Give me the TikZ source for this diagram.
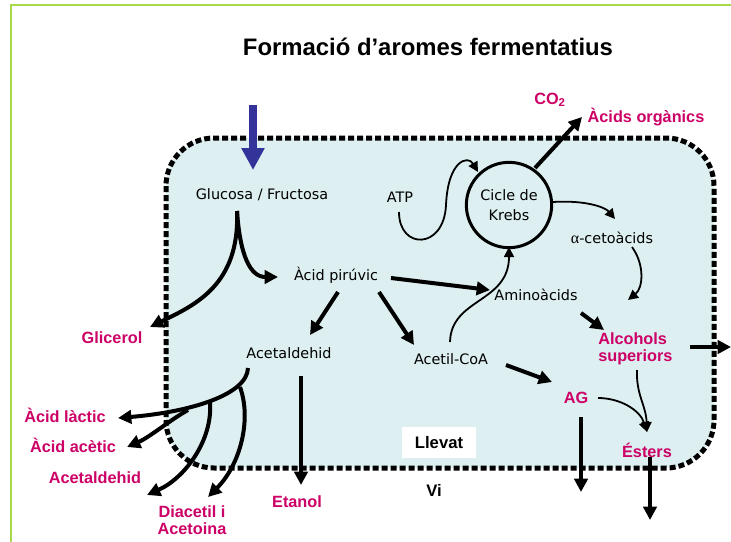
\documentclass[tikz,border=0pt]{standalone}
\usepackage{fontspec}
\setmainfont{DejaVu Sans}
\newfontfamily\arialfont{Liberation Sans}
\newfontfamily\greekfont{Liberation Serif}
\usetikzlibrary{arrows.meta}
\definecolor{framegreen}{RGB}{166,216,75}
\definecolor{cellfill}{RGB}{221,239,240}
\definecolor{prodpink}{RGB}{204,0,102}
\definecolor{feedblue}{RGB}{51,51,153}
\begin{document}
\begin{tikzpicture}[x=0.75pt,y=-0.75pt,
  lab/.style={font=\fontsize{10.8}{15}\selectfont, inner sep=0pt, align=center},
  prod/.style={font=\arialfont\bfseries\fontsize{12.2}{12.75}\selectfont, text=prodpink, inner sep=0pt},
  fat/.style={line width=3pt, -{Triangle[length=10pt,width=10pt]}},
  slim/.style={line width=1.35pt, -{Triangle[length=7.5pt,width=7.5pt]}},
  membrane/.style={line width=3.75pt, dash pattern=on 4.5pt off 2.25pt, fill=cellfill, rounded corners=36pt}]
\useasboundingbox (0,0) rectangle (731,542);

% page frame
\draw[framegreen, line width=1.5pt] (10.5,542) -- (10.5,5.5) -- (731,5.5);

% title
\node[font=\arialfont\bfseries\fontsize{17.9}{20}\selectfont, inner sep=0pt] (title) at (428,47) {Formació d’aromes fermentatius};

% yeast cell
\draw[membrane] (166,138) rectangle (714,468);
\node[fill=white, minimum width=55.5pt, minimum height=23.25pt, inner sep=0pt,
      font=\arialfont\bfseries\fontsize{12.5}{14}\selectfont] (llevat) at (439,442.5) {Llevat};
\node[font=\arialfont\bfseries\fontsize{12.5}{14}\selectfont, inner sep=0pt] (vi) at (434,490) {Vi};

% sugar uptake
\coordinate (feedtop) at (253,105);
\coordinate (feedtip) at (253,170);
\draw[feedblue, line width=5.6pt, -{Triangle[length=16.5pt,width=16.5pt]}] (feedtop) -- (feedtip);

% metabolites inside the cell
\node[lab] (glu) at (262,195) {Glucosa / Fructosa};
\node[lab] (atp) at (400,197) {ATP};
\node[draw, circle, line width=2.25pt, minimum size=64pt, inner sep=0pt, lab] (krebs) at (509,205) {Cicle de\\Krebs};
\node[lab] (ceto) at (612,238) {{\greekfont\fontsize{12}{15}\selectfont α}-cetoàcids};
\node[lab] (pir) at (336,275) {Àcid pirúvic};
\node[lab] (amino) at (536,295) {Aminoàcids};
\node[lab] (acet) at (289,353) {Acetaldehid};
\node[lab] (acoa) at (451,359) {Acetil-CoA};
\node[prod, anchor=west, align=left] (alc) at (598,349) {Alcohols\\superiors};
\node[prod] (ag) at (576,398) {AG};
\node[prod] (est) at (647,450) {Ésters};

% products released
\node[prod] (co2) at (550,100) {CO\textsubscript{2}};
\node[prod] (orga) at (646,117) {Àcids orgànics};
\node[prod] (glic) at (112,338) {Glicerol};
\node[prod] (lac) at (65,415) {Àcid làctic};
\node[prod] (acetic) at (73,445) {Àcid acètic};
\node[prod] (acetm) at (95,478) {Acetaldehid};
\node[prod, align=center] (diac) at (192,520) {Diacetil i\\Acetoina};
\node[prod] (etanol) at (297,502) {Etanol};

% connector end points
\coordinate (glu-out) at (237,211);
\coordinate (pir-in) at (278,277);
\coordinate (glic-in) at (150,327);
\coordinate (pir-e) at (391,278);
\coordinate (amino-in) at (490,290);
\coordinate (pir-s) at (338,292);
\coordinate (acet-in) at (310,335);
\coordinate (pir-se) at (379,292);
\coordinate (acoa-in) at (414,345);
\coordinate (acoa-n) at (450,342);
\coordinate (krebs-s) at (509,247);
\coordinate (atp-s) at (399,212);
\coordinate (atp-turn) at (446,205);
\coordinate (krebs-nw) at (478,172);
\coordinate (krebs-e) at (553,202);
\coordinate (ceto-in) at (615,219);
\coordinate (krebs-ne) at (535,168);
\coordinate (co2-in) at (582,117);
\coordinate (ceto-s) at (632,247);
\coordinate (alc-n) at (628,300);
\coordinate (amino-se) at (581,313);
\coordinate (alc-nw) at (604,330);
\coordinate (acoa-e) at (506,365);
\coordinate (ag-in) at (552,382);
\coordinate (ag-e) at (598,398);
\coordinate (est-in) at (647,432);
\coordinate (alc-s) at (637,370);
\coordinate (ag-s) at (581,417);
\coordinate (ag-out) at (581,492);
\coordinate (est-s) at (650,457);
\coordinate (est-out) at (650,520);
\coordinate (alc-e) at (690,347);
\coordinate (alc-out) at (731,347);
\coordinate (acet-s) at (301,376);
\coordinate (etanol-in) at (301,485);
\coordinate (acet-sw) at (248,368);
\coordinate (lac-in) at (118,418);
\coordinate (fork-a) at (188,410);
\coordinate (acetic-in) at (127,447);
\coordinate (fork-b) at (210,402);
\coordinate (acetm-in) at (147,495);
\coordinate (fork-c) at (240,387);
\coordinate (diac-in) at (208,497);

% glycolysis
\draw[fat] (glu-out) .. controls (240,255) and (250,277) .. (pir-in);
\draw[fat] (glu-out) .. controls (240,285) and (195,305) .. (glic-in);
\draw[fat] (pir-e) -- (amino-in);
\draw[fat] (pir-s) -- (acet-in);
\draw[fat] (pir-se) -- (acoa-in);

% Krebs cycle
\draw[slim] (acoa-n) .. controls (451,298) and (509,303) .. (krebs-s);
\draw[slim] (atp-s) .. controls (399,250) and (444,250) .. (atp-turn)
               .. controls (448,160) and (468,155) .. (krebs-nw);
\draw[slim] (krebs-e) .. controls (585,200) and (605,207) .. (ceto-in);
\draw[fat] (krebs-ne) -- (co2-in);

% higher alcohols and esters
\draw[slim] (ceto-s) .. controls (645,265) and (643,288) .. (alc-n);
\draw[fat] (amino-se) -- (alc-nw);
\draw[fat] (acoa-e) -- (ag-in);
\draw[slim] (ag-e) .. controls (620,398) and (640,410) .. (est-in);
\draw[slim] (alc-s) .. controls (636,395) and (646,405) .. (est-in);
\draw[fat] (ag-s) -- (ag-out);
\draw[fat] (est-s) -- (est-out);
\draw[fat] (alc-e) -- (alc-out);

% acetaldehyde fate
\draw[fat] (acet-s) -- (etanol-in);
\draw[fat] (acet-sw) .. controls (247,395) and (190,412) .. (lac-in);
\draw[fat] (fork-a) .. controls (170,420) and (150,437) .. (acetic-in);
\draw[fat] (fork-b) .. controls (213,440) and (185,478) .. (acetm-in);
\draw[fat] (fork-c) .. controls (252,420) and (240,465) .. (diac-in);
\end{tikzpicture}
\end{document}
